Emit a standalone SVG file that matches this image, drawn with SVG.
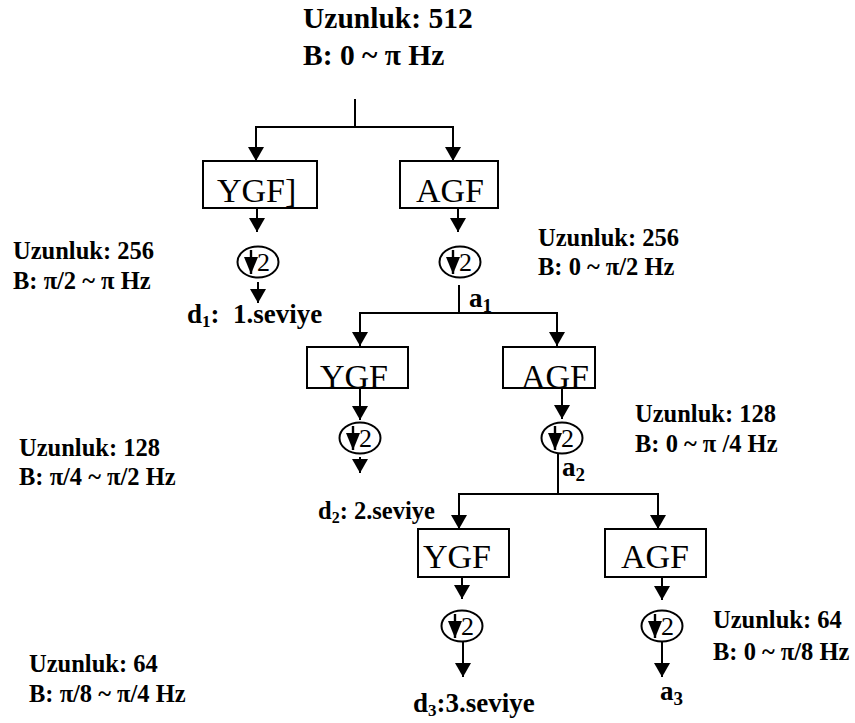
<svg xmlns="http://www.w3.org/2000/svg" width="855" height="723" viewBox="0 0 855 723">
  <defs>
    <marker id="head" viewBox="0 0 14 16" refX="14" refY="8" markerWidth="14" markerHeight="16" markerUnits="userSpaceOnUse" orient="auto">
      <path d="M0,0 L14,8 L0,16 z" fill="#000"/>
    </marker>
    <marker id="headSmall" viewBox="0 0 17 14" refX="17" refY="7" markerWidth="17" markerHeight="14" markerUnits="userSpaceOnUse" orient="auto">
      <path d="M0,0 L17,7 L0,14 z" fill="#000"/>
    </marker>
    <!-- downsampling-by-2 symbol: ellipse with arrow and "2" -->
    <g id="down2">
      <ellipse cx="0" cy="0" rx="20.5" ry="15.5" fill="#fff" stroke="#000" stroke-width="2"/>
      <line x1="-7" y1="-12" x2="-7" y2="12" stroke="#000" stroke-width="2.4" marker-end="url(#headSmall)"/>
      <text x="-1" y="9" class="sym">2</text>
    </g>
  </defs>
  <style>
    .box { fill: #fff; stroke: #000; stroke-width: 2; }
    .filt { font-family: "Liberation Serif", "Times New Roman", serif; font-size: 34px; fill: #000; }
    .sym { font-family: "Liberation Serif", "Times New Roman", serif; font-size: 26px; fill: #000; }
    .lbl { font-family: "Liberation Serif", "Times New Roman", serif; font-size: 24.5px; font-weight: bold; fill: #000; }
    .lvl { font-family: "Liberation Serif", "Times New Roman", serif; font-size: 27px; font-weight: bold; fill: #000; }
    .lvl.sm { font-size: 24.5px; }
    .top { font-family: "Liberation Serif", "Times New Roman", serif; font-size: 29.5px; font-weight: bold; fill: #000; }
    .wire { fill: none; stroke: #000; stroke-width: 2; }
  </style>

  <rect width="855" height="723" fill="#fff"/>

  <!-- input signal -->
  <g id="input">
    <text class="top" x="303" y="28">Uzunluk: 512</text>
    <text class="top" x="303" y="65">B: 0 ~ π Hz</text>
  </g>

  <!-- connectors -->
  <g id="connectors" class="wire">
    <!-- level 1 -->
    <path d="M355,99 V127"/>
    <path d="M355,127 H256 V161" marker-end="url(#head)"/>
    <path d="M355,127 H453 V161" marker-end="url(#head)"/>
    <path d="M257,196 V232" marker-end="url(#head)"/>
    <path d="M458,196 V232" marker-end="url(#head)"/>
    <path d="M258,282 V303" marker-end="url(#head)"/>
    <!-- level 2 -->
    <path d="M459,285 V313"/>
    <path d="M459,313 H360 V346" marker-end="url(#head)"/>
    <path d="M459,313 H557 V346" marker-end="url(#head)"/>
    <path d="M360,380 V420" marker-end="url(#head)"/>
    <path d="M562,380 V419" marker-end="url(#head)"/>
    <path d="M360,457 V473" marker-end="url(#head)"/>
    <!-- level 3 -->
    <path d="M558,454 V494"/>
    <path d="M558,494 H459 V529" marker-end="url(#head)"/>
    <path d="M558,494 H658 V529" marker-end="url(#head)"/>
    <path d="M462,562 V599" marker-end="url(#head)"/>
    <path d="M662,562 V600" marker-end="url(#head)"/>
    <path d="M463,641 V677" marker-end="url(#head)"/>
    <path d="M662,641 V677" marker-end="url(#head)"/>
  </g>

  <!-- level 1 -->
  <g id="ygf1">
    <rect class="box" x="203" y="161" width="114" height="47"/>
    <text class="filt" x="217" y="202">YGF]</text>
  </g>
  <g id="agf1">
    <rect class="box" x="400" y="161" width="98" height="47"/>
    <text class="filt" x="416" y="202">AGF</text>
  </g>
  <g id="ds1d"><use href="#down2" x="258" y="262"/></g>
  <g id="ds1a"><use href="#down2" x="460" y="262"/></g>
  <g id="d1">
    <text class="lvl" x="187" y="323" xml:space="preserve">d<tspan font-size="17" dy="4">1</tspan><tspan dy="-4">:  1.seviye</tspan></text>
  </g>
  <g id="a1">
    <text class="lvl" x="469" y="307">a<tspan font-size="19" dy="5">1</tspan></text>
  </g>

  <!-- level 2 -->
  <g id="ygf2">
    <rect class="box" x="307" y="347" width="101" height="41"/>
    <text class="filt" x="320" y="388">YGF</text>
  </g>
  <g id="agf2">
    <rect class="box" x="503" y="347" width="92" height="41"/>
    <text class="filt" x="521" y="388">AGF</text>
  </g>
  <g id="ds2d"><use href="#down2" x="360" y="438"/></g>
  <g id="ds2a"><use href="#down2" x="562" y="438"/></g>
  <g id="d2">
    <text class="lvl sm" x="318" y="519">d<tspan font-size="16" dy="4">2</tspan><tspan dy="-4">: 2.seviye</tspan></text>
  </g>
  <g id="a2">
    <text class="lvl" x="562" y="476">a<tspan font-size="19" dy="5">2</tspan></text>
  </g>

  <!-- level 3 -->
  <g id="ygf3">
    <rect class="box" x="418" y="529" width="91" height="48"/>
    <text class="filt" x="423" y="568">YGF</text>
  </g>
  <g id="agf3">
    <rect class="box" x="605" y="529" width="101" height="48"/>
    <text class="filt" x="621" y="568">AGF</text>
  </g>
  <g id="ds3d"><use href="#down2" x="462" y="626"/></g>
  <g id="ds3a"><use href="#down2" x="662" y="626"/></g>
  <g id="d3">
    <text class="lvl" x="413" y="712">d<tspan font-size="17" dy="4">3</tspan><tspan dy="-4">:3.seviye</tspan></text>
  </g>
  <g id="a3">
    <text class="lvl" x="660" y="700">a<tspan font-size="19" dy="5">3</tspan></text>
  </g>

  <!-- band / length annotations -->
  <g id="info1d">
    <text class="lbl" x="13" y="259">Uzunluk: 256</text>
    <text class="lbl" x="13" y="289">B: π/2 ~ π Hz</text>
  </g>
  <g id="info1a">
    <text class="lbl" x="538" y="246">Uzunluk: 256</text>
    <text class="lbl" x="538" y="275">B: 0 ~ π/2 Hz</text>
  </g>
  <g id="info2d">
    <text class="lbl" x="19" y="456">Uzunluk: 128</text>
    <text class="lbl" x="19" y="485">B: π/4 ~ π/2 Hz</text>
  </g>
  <g id="info2a">
    <text class="lbl" x="635" y="422">Uzunluk: 128</text>
    <text class="lbl" x="635" y="452" xml:space="preserve">B: 0 ~ π /4 Hz</text>
  </g>
  <g id="info3d">
    <text class="lbl" x="29" y="672">Uzunluk: 64</text>
    <text class="lbl" x="29" y="702">B: π/8 ~ π/4 Hz</text>
  </g>
  <g id="info3a">
    <text class="lbl" x="713" y="628">Uzunluk: 64</text>
    <text class="lbl" x="713" y="660">B: 0 ~ π/8 Hz</text>
  </g>
</svg>
